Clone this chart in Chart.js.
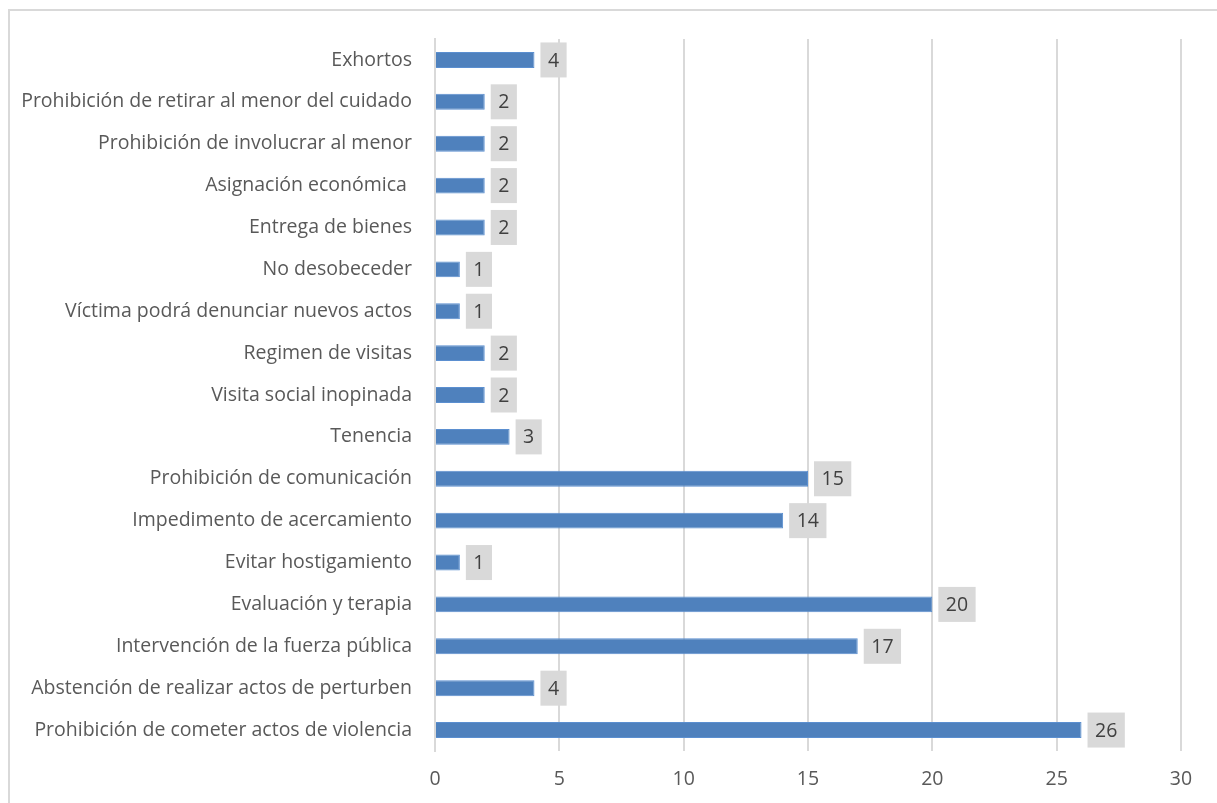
<!DOCTYPE html>
<html>
<head>
<meta charset="utf-8">
<script src="https://cdn.jsdelivr.net/npm/chart.js@4.4.1/dist/chart.umd.min.js"></script>
<style>
  html, body { margin: 0; padding: 0; background: #fff; overflow: hidden; }
  #wrap { position: relative; width: 1217px; height: 803px; }
  #marco { position: absolute; left: 8px; top: 9px; width: 1300px; height: 900px; border: 2px solid #d9d9d9; box-sizing: border-box; }
  canvas { position: absolute; left: 0; top: 0; }
</style>
</head>
<body>
<div id="wrap">
  <div id="marco"></div>
  <canvas id="grafica" width="1217" height="803"></canvas>
</div>
<script>
// Medidas de protección (de arriba hacia abajo)
const categorias = [
  "Exhortos",
  "Prohibición de retirar al menor del cuidado",
  "Prohibición de involucrar al menor",
  "Asignación económica ",
  "Entrega de bienes",
  "No desobeceder",
  "Víctima podrá denunciar nuevos actos",
  "Regimen de visitas",
  "Visita social inopinada",
  "Tenencia",
  "Prohibición de comunicación",
  "Impedimento de acercamiento",
  "Evitar hostigamiento",
  "Evaluación y terapia",
  "Intervención de la fuerza pública",
  "Abstención de realizar actos de perturben",
  "Prohibición de cometer actos de violencia"
];
const valores = [4, 2, 2, 2, 2, 1, 1, 2, 2, 3, 15, 14, 1, 20, 17, 4, 26];
const ticksX = [0, 5, 10, 15, 20, 25, 30];

const FUENTE = "'Open Sans', sans-serif";

// etiquetas de datos con caja gris
const etiquetas = {
  id: 'etiquetas',
  afterDatasetsDraw(chart) {
    const ctx = chart.ctx;
    const meta = chart.getDatasetMeta(0);
    ctx.save();
    ctx.font = "19.5px " + FUENTE;
    ctx.textBaseline = 'middle';
    ctx.textAlign = 'center';
    meta.data.forEach((bar, i) => {
      const txt = String(valores[i]);
      const w = ctx.measureText(txt).width + 15;
      const h = 35;
      const x0 = bar.x + 6;
      ctx.fillStyle = '#d9d9d9';
      ctx.fillRect(x0, bar.y - h / 2, w, h);
      ctx.fillStyle = '#404040';
      ctx.fillText(txt, x0 + w / 2, bar.y + 1);
    });
    ctx.restore();
  }
};

new Chart(document.getElementById('grafica'), {
  type: 'bar',
  data: {
    labels: categorias,
    datasets: [{
      data: valores,
      backgroundColor: '#4f81bd',
      borderColor: '#5b8fd0',
      borderWidth: 1,
      barPercentage: 0.38,
      categoryPercentage: 1
    }]
  },
  options: {
    indexAxis: 'y',
    responsive: false,
    animation: false,
    layout: { padding: { top: 39, right: 36, bottom: 0, left: 0 } },
    plugins: { legend: { display: false }, tooltip: { enabled: false } },
    scales: {
      x: {
        min: 0, max: 30,
        afterBuildTicks: s => { s.ticks = ticksX.map(v => ({ value: v })); },
        afterFit: s => { s.height = 52; },
        grid: { color: '#d9d9d9', lineWidth: 2, drawTicks: false },
        border: { display: false },
        ticks: { color: '#595959', padding: 17, font: { family: FUENTE, size: 19.5 } }
      },
      y: {
        afterFit: s => { s.width = 435; },
        grid: { display: false, drawTicks: false },
        border: { color: '#d9d9d9', width: 2 },
        ticks: { color: '#595959', padding: 23, font: { family: FUENTE, size: 19.5 } }
      }
    }
  },
  plugins: [etiquetas]
});
</script>
</body>
</html>
